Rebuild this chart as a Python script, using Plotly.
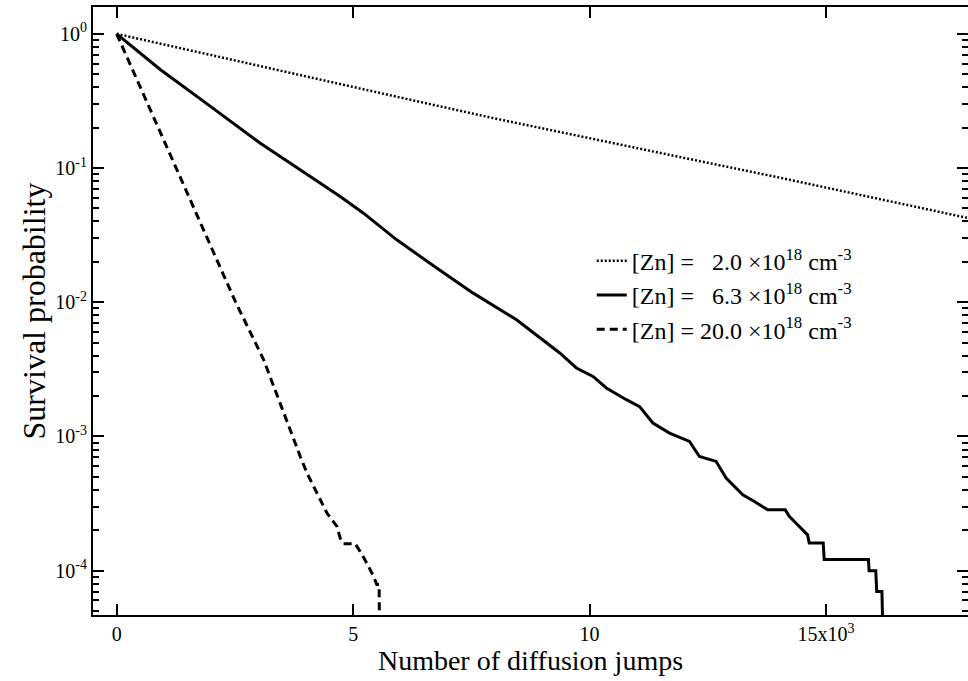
import plotly.graph_objects as go

# ---- data ----
dotted_x = [0, 2000, 4000, 6000, 8000, 10000, 12000, 14000, 16000, 18000, 18500]
dotted_y = [1.0, 0.692, 0.479, 0.335, 0.234, 0.166, 0.119, 0.0851, 0.0603, 0.0422, 0.0389]

solid_x = [0, 928, 1983, 3038, 4093, 4726, 5219, 5922, 6766, 7539, 8455, 9088, 9368,
           9721, 10072, 10354, 10776, 11056, 11338, 11689, 12111, 12322, 12675, 12886,
           13097, 13238, 13483, 13764, 14137, 14221, 14397, 14608, 14643, 14939, 14960,
           15895, 15909, 16050, 16070, 16180, 16205]
solid_y = [1.0, 0.540, 0.288, 0.153, 0.0865, 0.0614, 0.0461, 0.0292, 0.0180, 0.0117,
           0.00741, 0.00497, 0.00419, 0.00324, 0.00280, 0.00230, 0.00188, 0.00167,
           0.00126, 0.00106, 9.18e-4, 7.10e-4, 6.52e-4, 4.90e-4, 4.13e-4, 3.68e-4,
           3.28e-4, 2.84e-4, 2.84e-4, 2.54e-4, 2.20e-4, 1.85e-4, 1.61e-4, 1.61e-4,
           1.21e-4, 1.21e-4, 1.0e-4, 1.0e-4, 7.0e-5, 7.0e-5, 3.0e-5]

dashed_x = [0, 850, 1702, 2511, 3108, 3530, 3882, 4023, 4235, 4446, 4657, 4726, 4796,
            5043, 5148, 5289, 5430, 5500, 5549, 5560]
dashed_y = [1.0, 0.209, 0.0436, 0.0101, 0.00373, 0.00149, 7.10e-4, 5.35e-4, 3.79e-4,
            2.69e-4, 2.14e-4, 1.75e-4, 1.59e-4, 1.59e-4, 1.39e-4, 1.14e-4, 9.1e-5,
            7.9e-5, 7.9e-5, 3.0e-5]

series_names = [
    "[Zn] =\u00a0\u00a0\u00a02.0 \u00d710<sup>18</sup> cm<sup>-3</sup>",
    "[Zn] =\u00a0\u00a0\u00a06.3 \u00d710<sup>18</sup> cm<sup>-3</sup>",
    "[Zn] = 20.0 \u00d710<sup>18</sup> cm<sup>-3</sup>",
]

x_tickvals = [0, 5000, 10000, 15000]
x_ticktext = ["0", "5", "10", "15x10<sup>3</sup>"]
y_tickvals = [1e-4, 1e-3, 1e-2, 1e-1, 1]
y_ticktext = ["10<sup>-4</sup>", "10<sup>-3</sup>", "10<sup>-2</sup>",
              "10<sup>-1</sup>", "10<sup>0</sup>"]
y_minorvals = [m * 10.0 ** e for e in range(-5, 1) for m in range(2, 10)]

FONT = "Liberation Serif"

fig = go.Figure()
fig.add_trace(go.Scatter(x=dotted_x, y=dotted_y, mode="lines", name=series_names[0],
                         legendgroup="a",
                         line=dict(color="black", width=2.5, dash="2px,2px")))
fig.add_trace(go.Scatter(x=solid_x, y=solid_y, mode="lines", name=series_names[1],
                         legendgroup="b",
                         line=dict(color="black", width=3)))
fig.add_trace(go.Scatter(x=dashed_x, y=dashed_y, mode="lines", name=series_names[2],
                         legendgroup="c",
                         line=dict(color="black", width=3, dash="8px,5px")))

fig.update_layout(
    width=968, height=681,
    margin=dict(l=93, r=0, t=7, b=66, autoexpand=False),
    paper_bgcolor="white", plot_bgcolor="white",
    font=dict(family=FONT, color="black", size=20),
    legend=dict(x=0.57, y=0.619, xanchor="left", yanchor="top",
                bgcolor="rgba(0,0,0,0)", font=dict(family=FONT, size=24),
                tracegroupgap=0, itemwidth=30),
    showlegend=True,
)

fig.update_xaxes(
    range=[-500, 18000], automargin=False,
    tickmode="array", tickvals=x_tickvals, ticktext=x_ticktext,
    ticks="inside", ticklen=11, tickwidth=1.5, tickcolor="black",
    showline=True, linecolor="black", linewidth=2, mirror="ticks",
    showgrid=False, zeroline=False,
    tickfont=dict(family=FONT, size=20),
    title=dict(text="Number of diffusion jumps", font=dict(family=FONT, size=28), standoff=4),
)

fig.update_yaxes(
    type="log", range=[-4.33, 0.2], automargin=False,
    tickmode="array", tickvals=y_tickvals, ticktext=y_ticktext,
    ticks="inside", ticklen=11, tickwidth=1.5, tickcolor="black",
    minor=dict(ticks="inside", ticklen=6, tickwidth=1.5, tickcolor="black",
               tickmode="array", tickvals=y_minorvals, showgrid=False),
    showline=True, linecolor="black", linewidth=2, mirror="ticks",
    showgrid=False, zeroline=False,
    tickfont=dict(family=FONT, size=20),
    title=dict(text="Survival probability", font=dict(family=FONT, size=32), standoff=0),
)

fig.write_html("out.html", config={"displayModeBar": False},
               post_script="document.body.style.margin='0';")
